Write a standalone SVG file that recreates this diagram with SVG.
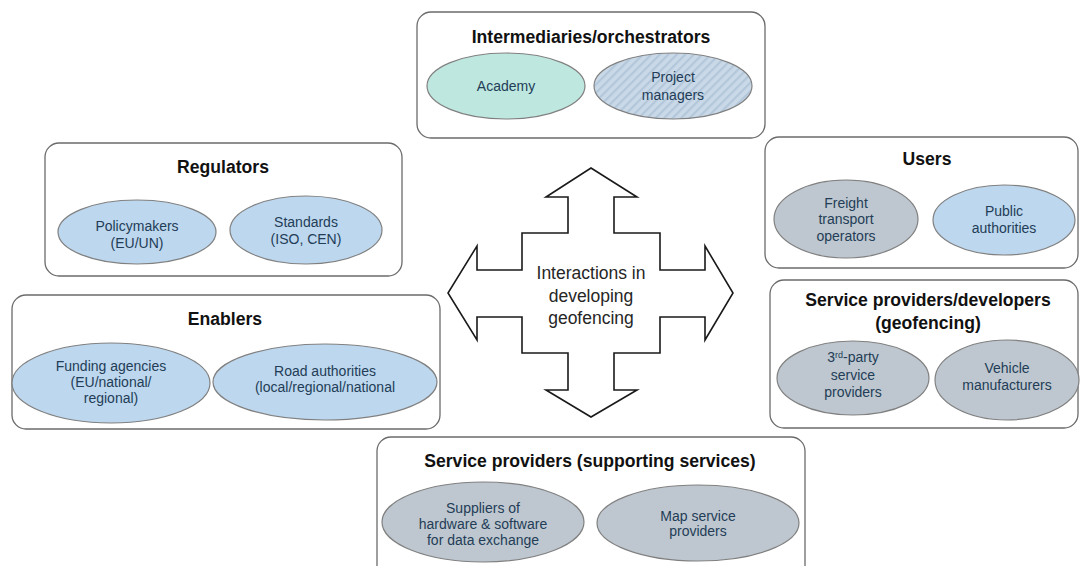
<svg xmlns="http://www.w3.org/2000/svg" width="1080" height="566" viewBox="0 0 1080 566">
<defs>
<style>
.box{fill:#fff;stroke:#6b6b6b;stroke-width:1.3}
.el{stroke:#808080;stroke-width:1.2}
.blue{fill:#bdd7ee}
.gray{fill:#bec7cf}
.teal{fill:#bde7df}
.title{font-family:"Liberation Sans",Arial,sans-serif;font-weight:bold;font-size:17.6px;fill:#111;text-anchor:middle}
.lbl{font-family:"Liberation Sans",Arial,sans-serif;font-size:14px;fill:#233d57;text-anchor:middle}
.ctr{font-family:"Liberation Sans",Arial,sans-serif;font-size:17.5px;fill:#262626;text-anchor:middle}
</style>
<pattern id="hatch" patternUnits="userSpaceOnUse" width="6" height="6" patternTransform="rotate(45)">
<rect width="6" height="6" fill="#cad9e8"/>
<rect width="2.2" height="6" fill="#b3c7da"/>
</pattern>
</defs>
<rect width="1080" height="566" fill="#fff"/>

<g id="connectors">
<path d="M591,168 L637,197 L614,197 L614,233 L660,233 L660,270 L705,270 L705,246 L733,293 L705,340 L705,317 L660,317 L660,353 L614,353 L614,390 L637,390 L591,417 L546,390 L568,390 L568,353 L522,353 L522,317 L477,317 L477,340 L448,293 L477,246 L477,270 L522,270 L522,233 L568,233 L568,197 L546,197 Z" fill="#fff" stroke="#1a1a1a" stroke-width="1.6" stroke-linejoin="miter"/>
<text class="ctr" x="591" y="279">Interactions in</text>
<text class="ctr" x="591" y="302">developing</text>
<text class="ctr" x="591" y="324">geofencing</text>
</g>

<g id="intermediaries">
<rect class="box" x="417" y="12" width="348" height="126" rx="14"/>
<text class="title" x="591" y="43">Intermediaries/orchestrators</text>
<ellipse class="el teal" cx="506" cy="86" rx="79" ry="33"/>
<text class="lbl" x="506" y="91">Academy</text>
<ellipse class="el" fill="url(#hatch)" cx="673" cy="86" rx="79" ry="33"/>
<text class="lbl" x="673" y="82">Project</text>
<text class="lbl" x="673" y="100">managers</text>
</g>

<g id="regulators">
<rect class="box" x="45" y="143" width="357" height="133" rx="14"/>
<text class="title" x="223" y="173">Regulators</text>
<ellipse class="el blue" cx="137" cy="232" rx="79" ry="32"/>
<text class="lbl" x="137" y="231">Policymakers</text>
<text class="lbl" x="137" y="248">(EU/UN)</text>
<ellipse class="el blue" cx="306" cy="230" rx="76" ry="34"/>
<text class="lbl" x="306" y="227">Standards</text>
<text class="lbl" x="306" y="244">(ISO, CEN)</text>
</g>

<g id="users">
<rect class="box" x="765" y="137" width="313" height="131" rx="14"/>
<text class="title" x="927" y="165">Users</text>
<ellipse class="el gray" cx="846" cy="219" rx="72" ry="39"/>
<text class="lbl" x="846" y="208">Freight</text>
<text class="lbl" x="846" y="224">transport</text>
<text class="lbl" x="846" y="241">operators</text>
<ellipse class="el blue" cx="1004" cy="220" rx="71" ry="35"/>
<text class="lbl" x="1004" y="216">Public</text>
<text class="lbl" x="1004" y="233">authorities</text>
</g>

<g id="enablers">
<rect class="box" x="12" y="295" width="428" height="134" rx="14"/>
<text class="title" x="225" y="325">Enablers</text>
<ellipse class="el blue" cx="111" cy="383" rx="99" ry="40"/>
<text class="lbl" x="111" y="371">Funding agencies</text>
<text class="lbl" x="111" y="387">(EU/national/</text>
<text class="lbl" x="111" y="403">regional)</text>
<ellipse class="el blue" cx="325" cy="382" rx="112" ry="38"/>
<text class="lbl" x="325" y="376">Road authorities</text>
<text class="lbl" x="325" y="392">(local/regional/national</text>
</g>

<g id="developers">
<rect class="box" x="770" y="280" width="308" height="148" rx="14"/>
<text class="title" x="928" y="306">Service providers/developers</text>
<text class="title" x="928" y="329">(geofencing)</text>
<ellipse class="el gray" cx="853" cy="378" rx="76" ry="37"/>
<text class="lbl" x="853" y="362">3<tspan font-size="9px" dy="-4">rd</tspan><tspan dy="4">-party</tspan></text>
<text class="lbl" x="853" y="380">service</text>
<text class="lbl" x="853" y="397">providers</text>
<ellipse class="el gray" cx="1007" cy="380" rx="72" ry="40"/>
<text class="lbl" x="1007" y="373">Vehicle</text>
<text class="lbl" x="1007" y="390">manufacturers</text>
</g>

<g id="supporting">
<rect class="box" x="377" y="437" width="428" height="150" rx="14"/>
<text class="title" x="590" y="467">Service providers (supporting services)</text>
<ellipse class="el gray" cx="483" cy="522" rx="101" ry="40"/>
<text class="lbl" x="483" y="513">Suppliers of</text>
<text class="lbl" x="483" y="529">hardware &amp; software</text>
<text class="lbl" x="483" y="545">for data exchange</text>
<ellipse class="el gray" cx="698" cy="523" rx="101" ry="38"/>
<text class="lbl" x="698" y="521">Map service</text>
<text class="lbl" x="698" y="536">providers</text>
</g>
</svg>
